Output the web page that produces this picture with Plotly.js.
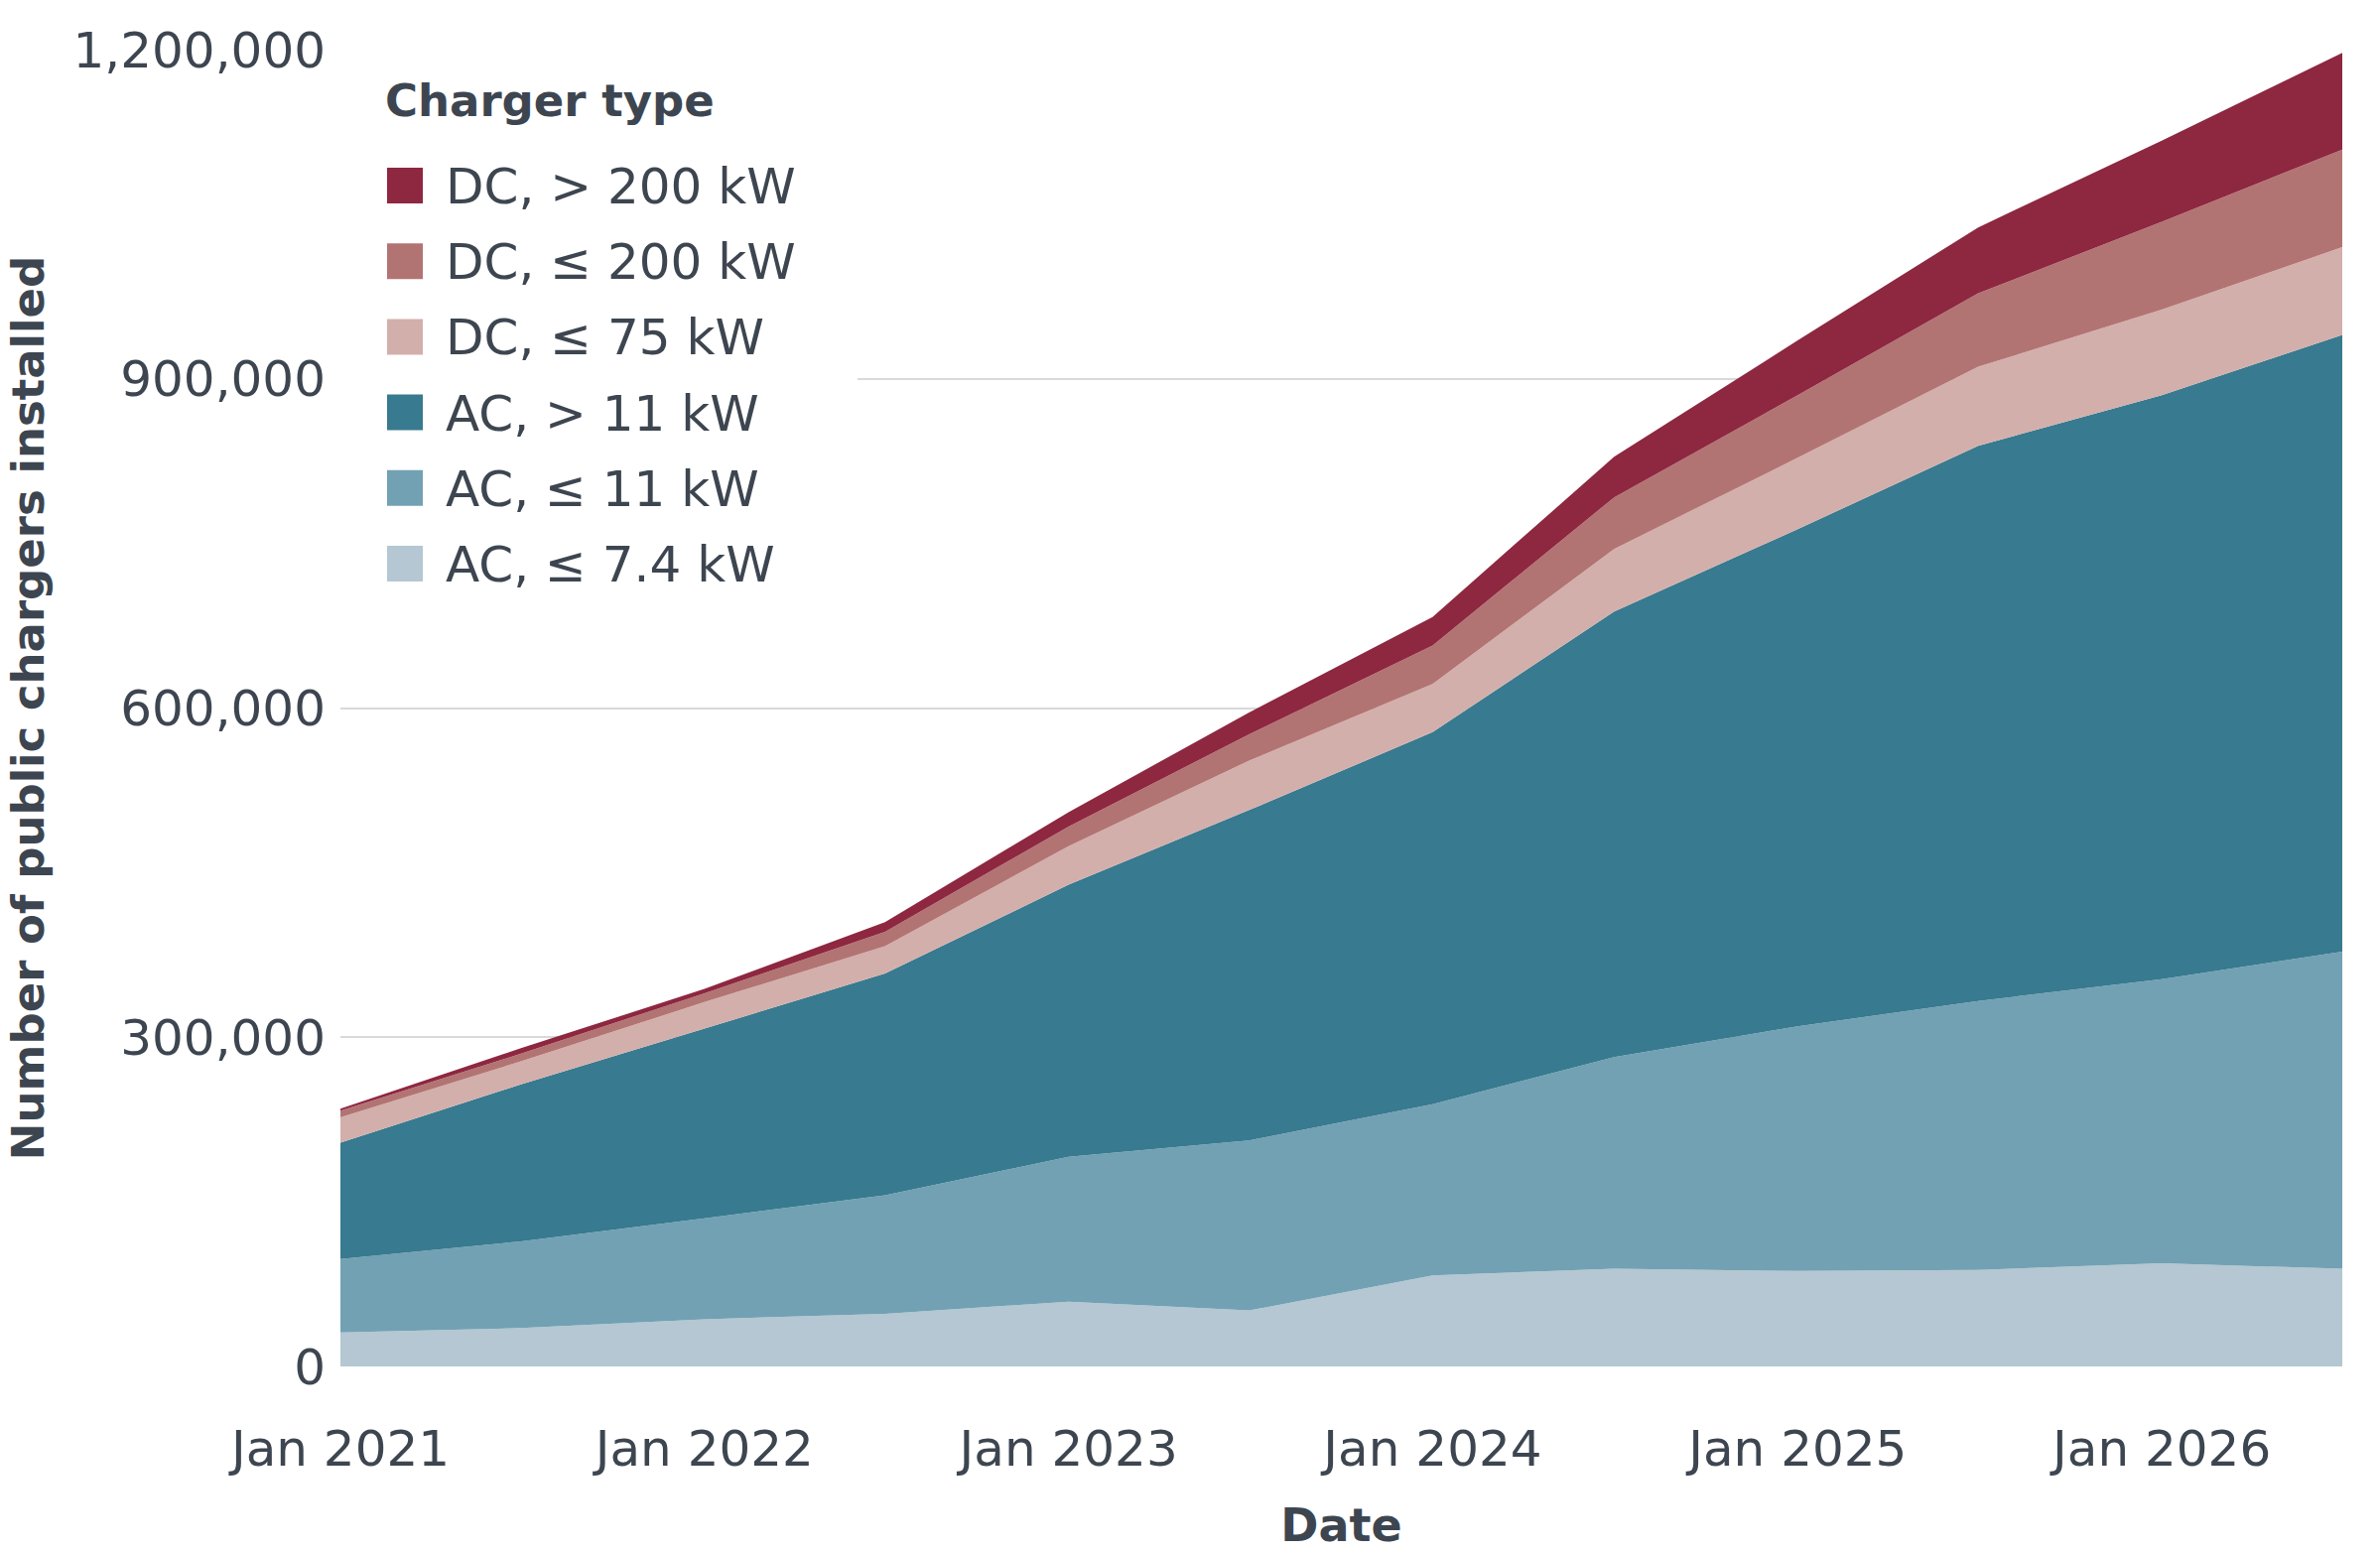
<!DOCTYPE html>
<html>
<head>
<meta charset="utf-8">
<script src="https://cdn.plot.ly/plotly-3.0.1.min.js"></script>
<style>html,body{margin:0;padding:0;background:#fff;}</style>
</head>
<body>
<div id="chart" style="width:2398px;height:1564px;"></div>
<script>
// ---- Data ----
const dates = ['2021-01-01','2021-07-01','2022-01-01','2022-07-01','2023-01-01','2023-07-01',
               '2024-01-01','2024-07-01','2025-01-01','2025-07-01','2026-01-01','2026-07-01'];
const acLe74  = [31000, 35000, 43000, 48000, 59000, 51000, 83000, 89000, 87000, 88000, 94000, 89000];
const acLe11  = [67000, 79000, 92000, 108000, 132000, 155000, 156000, 193000, 223000, 245000, 259000, 289000];
const acGt11  = [106000, 143000, 173000, 202000, 248000, 301000, 339000, 406000, 453000, 506000, 532000, 562000];
const dcLe75  = [23000, 21000, 24000, 25000, 35000, 45000, 44000, 57000, 65000, 72000, 78000, 80000];
const dcLe200 = [6000, 7000, 8000, 13000, 18000, 24000, 35000, 47000, 57000, 67000, 80000, 89000];
const dcGt200 = [2000, 5000, 4000, 9000, 13000, 20000, 26000, 37000, 50000, 60000, 74000, 88000];

const seriesNames  = ['AC, ≤ 7.4 kW','AC, ≤ 11 kW','AC, > 11 kW','DC, ≤ 75 kW','DC, ≤ 200 kW','DC, > 200 kW'];
const seriesValues = [acLe74, acLe11, acGt11, dcLe75, dcLe200, dcGt200];
const seriesColors = ['#b4c7d2','#72a1b3','#387a8f','#d3afac','#b27473','#8e2740'];

const xTickVals = ['2021-01-01','2022-01-01','2023-01-01','2024-01-01','2025-01-01','2026-01-01'];
const xTickText = ['Jan 2021','Jan 2022','Jan 2023','Jan 2024','Jan 2025','Jan 2026'];
const yTickVals = [0, 300000, 600000, 900000, 1200000];

const legendTitle = 'Charger type';
const xTitle = 'Date';
const yTitle = 'Number of public chargers installed';

// ---- Layout geometry ----
const W = 2398, H = 1564;
const M = {l: 343, r: 38, t: 50, b: 187};
const PW = W - M.l - M.r, PH = H - M.t - M.b;
const px = v => (v - M.l) / PW;     // pixel x -> paper
const py = v => (H - M.b - v) / PH; // pixel y -> paper

const FONT = 'DejaVu Sans';
const TXT = '#3d4650';

const traces = seriesNames.map((name, i) => ({
  type: 'scatter',
  x: dates,
  y: seriesValues[i],
  name: name,
  mode: 'lines',
  stackgroup: 'one',
  line: {width: 0, color: seriesColors[i]},
  fillcolor: seriesColors[i],
  showlegend: false,
  hoverinfo: 'skip'
}));

// manual legend (top-to-bottom = reverse stacking order)
const shapes = [{
  type: 'rect', xref: 'paper', yref: 'paper', layer: 'above',
  x0: 0, x1: px(864), y0: py(625), y1: py(68),
  fillcolor: '#ffffff', line: {width: 0}
}];
const annotations = [{
  xref: 'paper', yref: 'paper', x: px(386), y: py(102), xanchor: 'left', yanchor: 'middle',
  text: legendTitle, showarrow: false,
  font: {family: FONT, size: 45, color: TXT, weight: 700}
}];
const order = [5,4,3,2,1,0];
order.forEach((si, row) => {
  const cy = 187 + row * 76.2;
  shapes.push({
    type: 'rect', xref: 'paper', yref: 'paper', layer: 'above',
    x0: px(390), x1: px(426), y0: py(cy + 18), y1: py(cy - 18),
    fillcolor: seriesColors[si], line: {width: 0}
  });
  annotations.push({
    xref: 'paper', yref: 'paper', x: px(447), y: py(cy + 1), xanchor: 'left', yanchor: 'middle',
    text: seriesNames[si], showarrow: false,
    font: {family: FONT, size: 50, color: TXT}
  });
});

const layout = {
  width: W, height: H,
  margin: M,
  paper_bgcolor: '#ffffff', plot_bgcolor: '#ffffff',
  font: {family: FONT, color: TXT, size: 50},
  showlegend: false,
  hovermode: false,
  xaxis: {
    type: 'date',
    range: [dates[0], dates[dates.length - 1]],
    tickvals: xTickVals, ticktext: xTickText,
    showgrid: false, zeroline: false, showline: false, ticks: '',
    ticklabelstandoff: 49,
    tickfont: {family: FONT, size: 50, color: TXT},
    title: {text: xTitle, standoff: 34, font: {family: FONT, size: 46, color: TXT, weight: 700}}
  },
  yaxis: {
    range: [0, 1200000],
    tickvals: yTickVals, tickformat: ',d',
    showgrid: true, gridcolor: '#d9d9d9', gridwidth: 2,
    zeroline: false, showline: false, ticks: '',
    ticklabelstandoff: 14,
    tickfont: {family: FONT, size: 50, color: TXT},
    title: {text: yTitle, standoff: 14, font: {family: FONT, size: 45, color: TXT, weight: 700}}
  },
  shapes: shapes,
  annotations: annotations
};

Plotly.newPlot('chart', traces, layout, {displayModeBar: false, staticPlot: true});
</script>
</body>
</html>
